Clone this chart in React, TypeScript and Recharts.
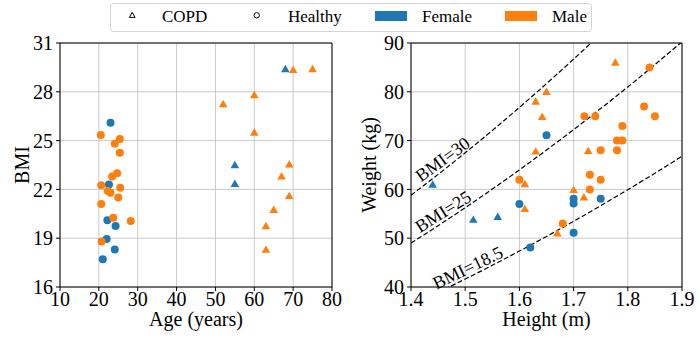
import {
  ComposedChart,
  Scatter,
  Line,
  XAxis,
  YAxis,
  CartesianGrid,
  ReferenceArea,
  ReferenceDot,
} from 'recharts';

const BLUE = '#1f77b4';
const ORANGE = '#ff7f0e';
const FONT = "'Liberation Serif', 'Times New Roman', Times, serif";

// age (years), BMI
const femaleHealthyAge = [[23, 26.1], [22.6, 22.3], [22.2, 20.1], [24.3, 19.75], [22, 18.95], [24.1, 18.3], [21, 17.7]];
const maleHealthyAge = [
  [20.5, 25.35], [25.4, 25.1], [24.1, 24.8], [25.4, 24.25], [24.7, 23.0], [23.4, 22.8], [20.6, 22.25], [25.5, 22.1],
  [22.3, 21.9], [23, 21.8], [25, 21.5], [20.6, 21.1], [23.7, 20.25], [28.2, 20.05], [20.7, 18.8],
];
const femaleCopdAge = [[68, 29.4], [55, 23.5], [55, 22.35]];
const maleCopdAge = [
  [70, 29.35], [75, 29.4], [52, 27.25], [60, 27.8], [60, 25.5], [69, 23.55], [67, 22.8], [69, 21.6], [65, 20.75],
  [63, 19.75], [63, 18.3],
];

// height (m), weight (kg)
const femaleHealthyHW = [[1.65, 71.1], [1.6, 57], [1.7, 58.1], [1.7, 57.1], [1.75, 58.1], [1.7, 51.1], [1.62, 48.1]];
const maleHealthyHW = [
  [1.84, 85], [1.83, 77], [1.85, 75], [1.72, 75], [1.74, 75], [1.79, 73], [1.78, 70], [1.79, 70], [1.78, 68],
  [1.75, 68], [1.73, 63], [1.75, 62], [1.6, 62], [1.73, 60], [1.68, 53],
];
const femaleCopdHW = [[1.44, 61], [1.515, 53.8], [1.56, 54.4]];
const maleCopdHW = [
  [1.777, 86], [1.65, 80], [1.63, 78], [1.642, 74.9], [1.63, 67.8], [1.727, 67.9], [1.61, 61.1], [1.61, 56],
  [1.7, 59.9], [1.719, 58.4], [1.67, 51],
];

const ageTicks = [10, 20, 30, 40, 50, 60, 70, 80];
const bmiTicks = [16, 19, 22, 25, 28, 31];
const heightTicks = [1.4, 1.5, 1.6, 1.7, 1.8, 1.9];
const weightTicks = [40, 50, 60, 70, 80, 90];

// iso-BMI reference curves: weight = BMI * height^2
const bmiLevels = [30, 25, 18.5];
const curveHeights = [1.4, 1.45, 1.5, 1.55, 1.6, 1.65, 1.7, 1.75, 1.8, 1.85, 1.9];
// where each curve label sits (height) and its text angle
const labelHeights = [1.468, 1.468, 1.512];
const labelAngles = [-36, -32, -26];

const ageRows = (rows: number[][]) => rows.map(([age, bmi]) => ({ age, bmi }));
const hwRows = (rows: number[][]) => rows.map(([height, weight]) => ({ height, weight }));

const dot = (color: string) => (p: any) => <circle cx={p.cx} cy={p.cy} r={4} fill={color} />;
const tri = (color: string) => (p: any) => (
  <path d={`M${p.cx},${p.cy - 4.2}L${p.cx + 4.3},${p.cy + 3.2}L${p.cx - 4.3},${p.cy + 3.2}Z`} fill={color} />
);

const tickStyle = { fontSize: 20, fill: '#000', style: { fontFamily: FONT } };
const tickLine = { stroke: '#000', strokeWidth: 1 };
const gridColor = '#c4c4c4';

function AgeChart() {
  return (
    <ComposedChart width={350} height={337} margin={{ top: 43, right: 18, bottom: 0, left: 0 }}>
      <CartesianGrid stroke={gridColor} strokeWidth={0.9} />
      <XAxis
        type="number"
        dataKey="age"
        domain={[10, 80]}
        ticks={ageTicks}
        interval={0}
        height={50}
        axisLine={false}
        tickLine={tickLine}
        tickSize={4}
        tickMargin={1}
        tick={tickStyle}
      />
      <YAxis
        type="number"
        dataKey="bmi"
        domain={[16, 31]}
        ticks={bmiTicks}
        interval={0}
        width={60}
        axisLine={false}
        tickLine={tickLine}
        tickSize={4}
        tickMargin={3}
        tick={tickStyle}
      />
      <Scatter data={ageRows(femaleHealthyAge)} shape={dot(BLUE)} isAnimationActive={false} />
      <Scatter data={ageRows(maleHealthyAge)} shape={dot(ORANGE)} isAnimationActive={false} />
      <Scatter data={ageRows(femaleCopdAge)} shape={tri(BLUE)} isAnimationActive={false} />
      <Scatter data={ageRows(maleCopdAge)} shape={tri(ORANGE)} isAnimationActive={false} />
      <ReferenceArea x1={10} x2={80} y1={16} y2={31} fill="none" stroke="#000" strokeWidth={1} fillOpacity={0} />
    </ComposedChart>
  );
}

function HeightChart() {
  return (
    <ComposedChart width={349} height={337} margin={{ top: 43, right: 17, bottom: 0, left: 0 }}>
      <CartesianGrid stroke={gridColor} strokeWidth={0.9} />
      <XAxis
        type="number"
        dataKey="height"
        domain={[1.4, 1.9]}
        ticks={heightTicks}
        interval={0}
        allowDataOverflow
        height={50}
        axisLine={false}
        tickLine={tickLine}
        tickSize={4}
        tickMargin={1}
        tick={tickStyle}
        tickFormatter={(v: number) => v.toFixed(1)}
      />
      <YAxis
        type="number"
        dataKey="weight"
        domain={[40, 90]}
        ticks={weightTicks}
        interval={0}
        allowDataOverflow
        width={61}
        axisLine={false}
        tickLine={tickLine}
        tickSize={4}
        tickMargin={3}
        tick={tickStyle}
      />
      {bmiLevels.map((bmi) => (
        <Line
          key={bmi}
          data={curveHeights.map((h) => ({ height: h, weight: bmi * h * h }))}
          dataKey="weight"
          type="monotone"
          stroke="#000"
          strokeWidth={1.2}
          strokeDasharray="5 2.4"
          dot={false}
          activeDot={false}
          isAnimationActive={false}
        />
      ))}
      <Scatter data={hwRows(femaleHealthyHW)} shape={dot(BLUE)} isAnimationActive={false} />
      <Scatter data={hwRows(maleHealthyHW)} shape={dot(ORANGE)} isAnimationActive={false} />
      <Scatter data={hwRows(femaleCopdHW)} shape={tri(BLUE)} isAnimationActive={false} />
      <Scatter data={hwRows(maleCopdHW)} shape={tri(ORANGE)} isAnimationActive={false} />
      {bmiLevels.map((bmi, i) => {
        const h = labelHeights[i];
        return (
          <ReferenceDot
            key={`lbl-${bmi}`}
            x={h}
            y={bmi * h * h}
            r={0}
            shape={(p: any) => (
              <text
                x={p.cx}
                y={p.cy - 3}
                transform={`rotate(${labelAngles[i]} ${p.cx} ${p.cy})`}
                textAnchor="middle"
                fontSize={18}
                style={{ fontFamily: FONT }}
                fill="#000"
              >
                {`BMI=${bmi}`}
              </text>
            )}
          />
        );
      })}
      <ReferenceArea x1={1.4} x2={1.9} y1={40} y2={90} fill="none" stroke="#000" strokeWidth={1} fillOpacity={0} />
    </ComposedChart>
  );
}

function Legend() {
  return (
    <g fontSize={17} fill="#000">
      <rect x={110.5} y={3.5} width={481} height={28} rx={3} fill="#fff" stroke="#d4d4d4" />
      <path d="M129.3,17.4L132.2,12.4L135.1,17.4Z" fill="none" stroke="#000" strokeWidth={1} />
      <text x={162} y={21.5}>COPD</text>
      <circle cx={256.7} cy={15.3} r={2.7} fill="none" stroke="#000" strokeWidth={1} />
      <text x={288} y={21.5}>Healthy</text>
      <rect x={375} y={11} width={32} height={10} fill={BLUE} />
      <text x={422} y={21.5}>Female</text>
      <rect x={505} y={11} width={32} height={10} fill={ORANGE} />
      <text x={552} y={21.5}>Male</text>
    </g>
  );
}

export default function App() {
  return (
    <div
      style={{
        position: 'absolute',
        left: 0,
        top: 0,
        width: 699,
        height: 337,
        background: '#fff',
        fontFamily: FONT,
      }}
    >
      <div style={{ position: 'absolute', left: 0, top: 0 }}>
        <AgeChart />
      </div>
      <div style={{ position: 'absolute', left: 350, top: 0 }}>
        <HeightChart />
      </div>
      <svg
        width={699}
        height={337}
        style={{ position: 'absolute', left: 0, top: 0, pointerEvents: 'none', fontFamily: FONT }}
      >
        <Legend />
        <g fontSize={20} fill="#000" textAnchor="middle">
          <text x={196} y={326}>Age (years)</text>
          <text x={546.5} y={326}>Height (m)</text>
          <text transform="rotate(-90 29 165)" x={29} y={165}>BMI</text>
          <text transform="rotate(-90 376 165)" x={376} y={165}>Weight (kg)</text>
        </g>
      </svg>
    </div>
  );
}
